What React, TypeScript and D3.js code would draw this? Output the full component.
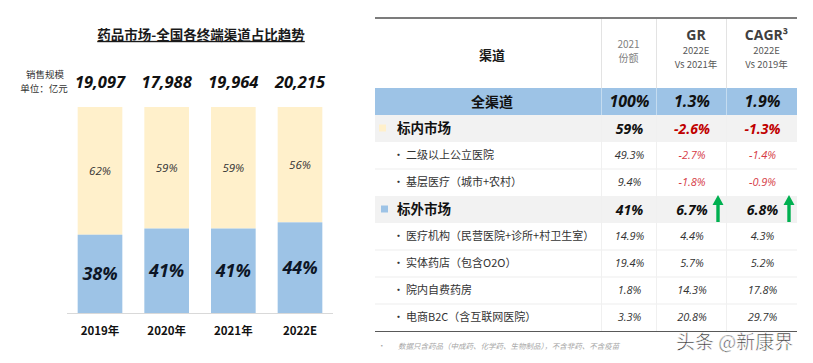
import React from 'react';
import * as d3 from 'd3';

// left chart: market size and channel split
const years = ['2019年', '2020年', '2021年', '2022E'];
const marketSize = [19097, 17988, 19964, 20215];
const outsideShare = [38, 41, 41, 44];
const insideShare = [62, 59, 59, 56];

// right table
const channels = [
  '全渠道',
  '标内市场',
  '二级以上公立医院',
  '基层医疗（城市+农村）',
  '标外市场',
  '医疗机构（民营医院+诊所+村卫生室）',
  '实体药店（包含O2O）',
  '院内自费药房',
  '电商B2C（含互联网医院）',
];
const levels = ['total', 'group', 'sub', 'sub', 'group', 'sub', 'sub', 'sub', 'sub'];
const share2021 = [100, 59, 49.3, 9.4, 41, 14.9, 19.4, 1.8, 3.3];
const growth = [1.3, -2.6, -2.7, -1.8, 6.7, 4.4, 5.7, 14.3, 20.8];
const cagr = [1.9, -1.3, -1.4, -0.9, 6.8, 4.3, 5.2, 17.8, 29.7];
const upRows = ['标外市场'];

const CJK = '"Noto Sans CJK SC", "Noto Sans", sans-serif';
const NUM = '"Open Sans", "Noto Sans", sans-serif';

const YELLOW = '#FFF0CB';
const BLUE = '#9DC3E6';
const RED = '#C00000';
const RED_LIGHT = '#D63B47';
const GREEN = '#00B050';

const base = (cy: number, fs: number) => cy + fs * 0.36;

// plain hyphen for negatives, like the source
const locale = d3.formatLocale({ decimal: '.', thousands: ',', grouping: [3], currency: ['', ''], minus: '-' });

const App: React.FC = () => {
  const width = 813;
  const height = 363;

  // ---- bar chart scales
  const x = d3.scaleBand<string>().domain(years).range([67, 333]).paddingInner(0.33).paddingOuter(0.16);
  const y = d3.scaleLinear().domain([0, 100]).range([313, 107]);
  const sizeFmt = locale.format(',');

  // ---- table scales
  const rows = d3.scaleBand<number>().domain(d3.range(channels.length)).range([88, 331]);
  const colEdges = [375, 601, 656, 726, 797];
  const colMid = (i: number) => (colEdges[i] + colEdges[i + 1]) / 2;
  const pct1 = locale.format('.1f');
  const shareText = (v: number, lvl: string) => (lvl === 'sub' ? pct1(v) : locale.format('d')(v)) + '%';

  const arrow = (cx: number, top: number, bottom: number) => {
    const p = d3.path();
    const hw = 5.5, sw = 1.7, hh = 10;
    p.moveTo(cx, top);
    p.lineTo(cx + hw, top + hh);
    p.lineTo(cx + sw, top + hh);
    p.lineTo(cx + sw, bottom);
    p.lineTo(cx - sw, bottom);
    p.lineTo(cx - sw, top + hh);
    p.lineTo(cx - hw, top + hh);
    p.closePath();
    return p.toString();
  };

  return (
    <svg width={width} height={height} style={{ position: 'absolute', left: 0, top: 0, background: '#fff' }}>
      {/* ===== left chart ===== */}
      <text x={201} y={base(35, 13.5)} textAnchor="middle" fontFamily={CJK} fontWeight={700} fontSize={13.5}
        fill="#1a1a1a" style={{ textDecoration: 'underline' }}>
        药品市场-全国各终端渠道占比趋势
      </text>
      <text textAnchor="middle" fontFamily={CJK} fontSize={9.5} fill="#333">
        <tspan x={45} y={base(75, 9.5)}>销售规模</tspan>
        <tspan x={44} y={base(89, 9.5)}>单位：亿元</tspan>
      </text>

      {years.map((yr, i) => {
        const bx = x(yr)!;
        const bw = x.bandwidth();
        const cx = bx + bw / 2;
        const yBlue = y(outsideShare[i]);
        const yTop = y(outsideShare[i] + insideShare[i]);
        return (
          <g key={yr}>
            <text x={cx} y={base(82, 16.5)} textAnchor="middle" fontFamily={NUM} fontWeight={700}
              fontStyle="italic" fontSize={16.5} fill="#111">{sizeFmt(marketSize[i])}</text>
            <rect x={bx} y={yTop} width={bw} height={yBlue - yTop} fill={YELLOW} />
            <rect x={bx} y={yBlue} width={bw} height={y(0) - yBlue} fill={BLUE} />
            <text x={cx} y={base((yTop + yBlue) / 2, 11.5)} textAnchor="middle" fontFamily={NUM}
              fontStyle="italic" fontSize={11.5} fill="#333">{insideShare[i]}%</text>
            <text x={cx} y={base((yBlue + y(0)) / 2, 18)} textAnchor="middle" fontFamily={NUM}
              fontWeight={700} fontStyle="italic" fontSize={18} fill="#0d1626">{outsideShare[i]}%</text>
            <text x={cx} y={base(331, 11.5)} textAnchor="middle" fontFamily={CJK} fontWeight={700}
              fontSize={11.5} fill="#111">{yr}</text>
          </g>
        );
      })}
      <line x1={67} x2={333} y1={313.5} y2={313.5} stroke="#D9D9D9" strokeWidth={1} />

      {/* ===== right table ===== */}
      {channels.map((c, i) => {
        const lvl = levels[i];
        const ry = rows(i)!;
        const rh = rows.bandwidth();
        const fill = lvl === 'total' ? BLUE : lvl === 'group' ? '#F2F2F2' : '#fff';
        return <rect key={'bg' + c} x={colEdges[0]} y={ry} width={colEdges[4] - colEdges[0]} height={rh} fill={fill} />;
      })}
      {channels.map((c, i) =>
        i > 0 && levels[i] === 'sub' && levels[i - 1] === 'sub' ? (
          <line key={'sep' + c} x1={colEdges[0]} x2={colEdges[4]} y1={rows(i)!} y2={rows(i)!} stroke="#EDEDED" />
        ) : null
      )}
      {colEdges.slice(1, 4).map((cx) => (
        <g key={'v' + cx}>
          <line x1={cx + 0.5} x2={cx + 0.5} y1={19} y2={rows(0)!} stroke="#E3E3E3" />
          <line x1={cx + 0.5} x2={cx + 0.5} y1={rows(0)!} y2={rows(1)!} stroke="#C5DCF0" />
          <line x1={cx + 0.5} x2={cx + 0.5} y1={rows(1)!} y2={331} stroke="#F0F0F0" />
        </g>
      ))}
      <line x1={375} x2={797} y1={18} y2={18} stroke="#505050" strokeWidth={1.5} />
      <line x1={375} x2={797} y1={331.5} y2={331.5} stroke="#595959" strokeWidth={1.2} />

      {/* header */}
      <text x={492} y={base(55, 13)} textAnchor="middle" fontFamily={CJK} fontWeight={700} fontSize={13} fill="#1a1a1a">渠道</text>
      <text textAnchor="middle" fontFamily={CJK} fontSize={10} fill="#808080">
        <tspan x={colMid(1)} y={base(44, 10)}>2021</tspan>
        <tspan x={colMid(1)} y={base(58.5, 10)}>份额</tspan>
      </text>
      {[
        { t: 'GR', s: 'Vs 2021年' },
        { t: 'CAGR³', s: 'Vs 2019年' },
      ].map((h, k) => (
        <text key={h.t} textAnchor="middle" fontFamily={CJK} fontSize={9.5} fill="#595959">
          <tspan x={colMid(k + 2) + 5} y={base(35, 14)} fontFamily={NUM} fontWeight={700} fontSize={14} fill="#404040">{h.t}</tspan>
          <tspan x={colMid(k + 2) + 5} y={base(50.5, 9.5)}>2022E</tspan>
          <tspan x={colMid(k + 2) + 5} y={base(64.5, 9.5)}>{h.s}</tspan>
        </text>
      ))}

      {/* body */}
      {channels.map((c, i) => {
        const lvl = levels[i];
        const cy = rows(i)! + rows.bandwidth() / 2;
        const big = lvl !== 'sub';
        const vfs = lvl === 'total' ? 16 : lvl === 'group' ? 14 : 11;
        const up = upRows.includes(c);
        const valColor = (v: number) => (v < 0 ? (big ? RED : RED_LIGHT) : big ? '#111' : '#333');
        return (
          <g key={'row' + c}>
            {lvl === 'total' && (
              <text x={492} y={base(cy, 14)} textAnchor="middle" fontFamily={CJK} fontWeight={700} fontSize={14} fill="#111">{c}</text>
            )}
            {lvl === 'group' && (
              <>
                <rect x={c === '标内市场' ? 379 : 381} y={cy - 4} width={7} height={7} fill={c === '标内市场' ? YELLOW : BLUE} />
                <text x={397} y={base(cy, 13.5)} fontFamily={CJK} fontWeight={700} fontSize={13.5} fill="#111">{c}</text>
              </>
            )}
            {lvl === 'sub' && (
              <>
                <text x={393} y={base(cy, 11)} fontFamily={CJK} fontSize={11} fill="#333">•</text>
                <text x={406} y={base(cy, 11)} fontFamily={CJK} fontSize={11} fill="#333">{c}</text>
              </>
            )}
            <text x={colMid(1) + 1} y={base(cy, vfs)} textAnchor="middle" fontFamily={NUM} fontStyle="italic"
              fontWeight={big ? 700 : 400} fontSize={vfs} fill={big ? '#111' : '#333'}>{shareText(share2021[i], lvl)}</text>
            <text x={colMid(2) + 1} y={base(cy, vfs)} textAnchor="middle" fontFamily={NUM} fontStyle="italic"
              fontWeight={big ? 700 : 400} fontSize={vfs} fill={valColor(growth[i])}>{pct1(growth[i])}%</text>
            <text x={colMid(3) + 1} y={base(cy, vfs)} textAnchor="middle" fontFamily={NUM} fontStyle="italic"
              fontWeight={big ? 700 : 400} fontSize={vfs} fill={valColor(cagr[i])}>{pct1(cagr[i])}%</text>
            {up && (
              <>
                <path d={arrow(718, rows(i)! - 1, rows(i)! + rows.bandwidth() - 1)} fill={GREEN} />
                <path d={arrow(789, rows(i)! - 1, rows(i)! + rows.bandwidth() - 1)} fill={GREEN} />
              </>
            )}
          </g>
        );
      })}

      {/* footnote + watermark */}
      <text x={378} y={base(346, 7.5)} fontFamily={CJK} fontSize={7.5} fill="#A6A6A6">•</text>
      <text x={398} y={base(346, 7.5)} fontFamily={CJK} fontStyle="italic" fontSize={7.5} fill="#A6A6A6">
        数据只含药品（中成药、化学药、生物制品），不含非药、不含疫苗
      </text>
      <text x={676} y={base(342, 19)} fontFamily={CJK} fontSize={19} fill="#333" stroke="#fff" strokeWidth={0.6}>
        头条 @新康界
      </text>
    </svg>
  );
};

export default App;
